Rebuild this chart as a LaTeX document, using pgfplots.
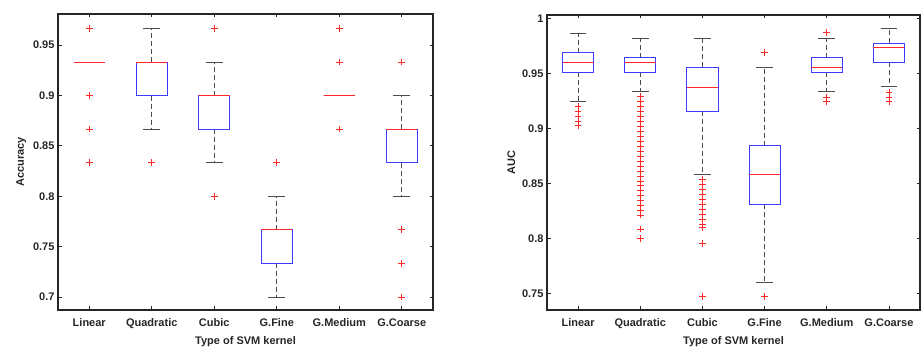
\documentclass[border=0pt]{standalone}
\usepackage{fontspec}
\setmainfont{Liberation Sans}
\usepackage{pgfplots}
\pgfplotsset{compat=1.18}
\definecolor{axc}{gray}{0.15}
\definecolor{boxblue}{RGB}{60,60,255}
\definecolor{medred}{RGB}{255,40,40}
\definecolor{whc}{gray}{0.3}
\pgfplotsset{
  mystyle/.style={
    scale only axis,
    xmin=0.5, xmax=6.5,
    xtick={1,2,3,4,5,6},
    xticklabels={Linear,Quadratic,Cubic,G.Fine,G.Medium,G.Coarse},
    tick align=inside, tick pos=both,
    major tick length=3.5pt,
    axis line style={axc, line width=1.3pt},
    tick style={axc, line width=0.8pt},
    ticklabel style={font=\bfseries\fontsize{11}{13}\selectfont, text=axc},
    xticklabel style={yshift=-5pt},
    label style={font=\bfseries\fontsize{11}{13}\selectfont, text=axc},
    xlabel style={yshift=-0.5pt},
    /pgf/number format/assume math mode=true,
    xlabel={Type of SVM kernel},
  },
  outl/.style={only marks, mark=+, mark size=3.3pt, color=medred, mark options={line width=0.65pt}},
  whisk/.style={whc, line width=0.7pt, dash pattern=on 5pt off 3pt},
  cap/.style={whc, line width=0.8pt},
  bbox/.style={boxblue, line width=0.8pt, line join=miter},
  med/.style={medred, line width=0.8pt},
}
% \bxw{x}{cap left}{cap right}{lower whisker}{q1}{q3}{upper whisker}
\newcommand{\bxw}[7]{%
  \addplot[whisk] coordinates {(#1,#5) (#1,#4)};
  \addplot[whisk] coordinates {(#1,#6) (#1,#7)};
  \addplot[cap] coordinates {(#2,#4) (#3,#4)};
  \addplot[cap] coordinates {(#2,#7) (#3,#7)};
}
% \bxb{box left}{box right}{q1}{median}{q3}
\newcommand{\bxb}[5]{%
  \addplot[bbox] coordinates {(#1,#3) (#2,#3) (#2,#5) (#1,#5) (#1,#3) (#2,#3)};
  \addplot[med] coordinates {(#1,#4) (#2,#4)};
}
\begin{document}
\begin{tikzpicture}
\useasboundingbox (0,0) rectangle (921pt,347pt);
% ---------- Accuracy ----------
\begin{axis}[mystyle,
  at={(58pt,37pt)}, anchor=south west,
  width=375pt, height=296pt,
  ymin=0.687, ymax=0.981,
  ytick={0.7,0.75,0.8,0.85,0.9,0.95},
  yticklabels={0.7,0.75,0.8,0.85,0.9,0.95},
  ylabel={Accuracy}]
\bxw{1}{0.865}{1.135}{0.93333}{0.93333}{0.93333}{0.93333}
\bxb{0.75}{1.25}{0.93333}{0.93333}{0.93333}
\bxw{2}{1.865}{2.135}{0.86667}{0.9}{0.93333}{0.96667}
\bxb{1.75}{2.25}{0.9}{0.93333}{0.93333}
\bxw{3}{2.865}{3.135}{0.83333}{0.86667}{0.9}{0.93333}
\bxb{2.75}{3.25}{0.86667}{0.9}{0.9}
\bxw{4}{3.865}{4.135}{0.7}{0.73333}{0.76667}{0.8}
\bxb{3.75}{4.25}{0.73333}{0.76667}{0.76667}
\bxw{5}{4.865}{5.135}{0.9}{0.9}{0.9}{0.9}
\bxb{4.75}{5.25}{0.9}{0.9}{0.9}
\bxw{6}{5.865}{6.135}{0.8}{0.83333}{0.86667}{0.9}
\bxb{5.75}{6.25}{0.83333}{0.86667}{0.86667}
\addplot[outl] coordinates {
 (1,0.96667) (1,0.9) (1,0.86667) (1,0.83333)
 (2,0.83333)
 (3,0.96667) (3,0.8)
 (4,0.83333)
 (5,0.96667) (5,0.93333) (5,0.86667)
 (6,0.93333) (6,0.76667) (6,0.73333) (6,0.7)
};
\end{axis}
% ---------- AUC ----------
\begin{axis}[mystyle,
  at={(547pt,37pt)}, anchor=south west,
  width=373pt, height=295pt,
  ymin=0.7352, ymax=1.0034,
  ytick={0.75,0.8,0.85,0.9,0.95,1},
  yticklabels={0.75,0.8,0.85,0.9,0.95,1},
  ylabel={AUC}]
\bxw{1}{0.865}{1.135}{0.9245}{0.9515}{0.969}{0.9867}
\bxb{0.75}{1.25}{0.9515}{0.9604}{0.969}
\bxw{2}{1.865}{2.135}{0.9336}{0.9515}{0.9645}{0.9825}
\bxb{1.75}{2.25}{0.9515}{0.960}{0.9645}
\bxw{3}{2.865}{3.135}{0.8585}{0.9158}{0.9558}{0.9825}
\bxb{2.75}{3.25}{0.9158}{0.9379}{0.9558}
\bxw{4}{3.865}{4.135}{0.760}{0.8315}{0.8845}{0.9558}
\bxb{3.75}{4.25}{0.8315}{0.8582}{0.8845}
\bxw{5}{4.865}{5.135}{0.9336}{0.9515}{0.9645}{0.9822}
\bxb{4.75}{5.25}{0.9515}{0.9558}{0.9645}
\bxw{6}{5.865}{6.135}{0.9381}{0.9604}{0.9779}{0.9909}
\bxb{5.75}{6.25}{0.9604}{0.9736}{0.9779}
\addplot[outl] coordinates {
 (1,0.9206) (1,0.916) (1,0.9115) (1,0.907) (1,0.903)
 (2,0.9291) (2,0.9246) (2,0.9201) (2,0.9156) (2,0.9111) (2,0.9066) (2,0.9021)
 (2,0.8976) (2,0.8931) (2,0.8886) (2,0.8841) (2,0.8796) (2,0.8751) (2,0.8706)
 (2,0.8661) (2,0.8616) (2,0.8571) (2,0.8526) (2,0.8481) (2,0.8436) (2,0.8391)
 (2,0.8346) (2,0.8301) (2,0.8256) (2,0.8215) (2,0.8088) (2,0.8004)
 (3,0.854) (3,0.8495) (3,0.845) (3,0.8405) (3,0.836) (3,0.8315) (3,0.827)
 (3,0.8225) (3,0.818) (3,0.8135) (3,0.810) (3,0.7958) (3,0.7473)
 (4,0.9695) (4,0.7473)
 (5,0.9873) (5,0.929) (5,0.9245)
 (6,0.933) (6,0.929) (6,0.9245)
};
\end{axis}
\end{tikzpicture}
\end{document}
